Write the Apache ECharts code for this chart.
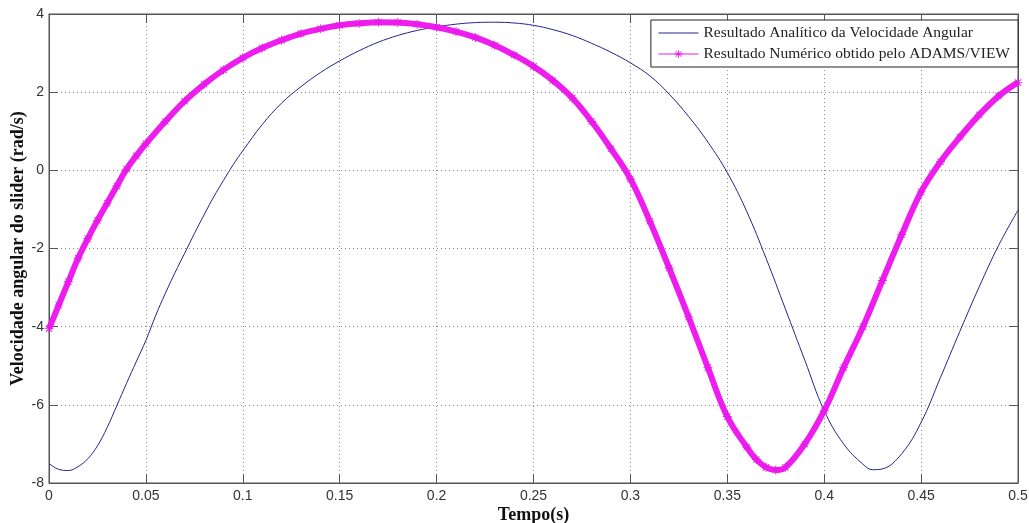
<!DOCTYPE html>
<html lang="pt">
<head>
    <meta charset="UTF-8">
    <title>Velocidade angular do slider</title>
    <style>
        html, body { margin: 0; padding: 0; background: #fff; }
        #main { width: 1029px; height: 523px; }
    </style>
</head>
<body>
<div id="main"></div>

<script src="https://cdn.jsdelivr.net/npm/echarts@6/dist/echarts.min.js"></script>
<script>

    // Resultado analítico (linha azul)
    const tempoAnalitico = [0, 0.005, 0.01, 0.015, 0.02, 0.025, 0.03, 0.035, 0.04, 0.045, 0.05, 0.055, 0.06, 0.065, 0.07, 0.075, 0.08, 0.085, 0.09, 0.095,
        0.1, 0.11, 0.12, 0.13, 0.14, 0.15, 0.16, 0.17, 0.18, 0.19, 0.2, 0.21, 0.22, 0.23, 0.24, 0.25, 0.26, 0.27, 0.28, 0.29,
        0.3, 0.31, 0.32, 0.33, 0.34, 0.35, 0.36, 0.37, 0.38, 0.39, 0.4, 0.41, 0.42, 0.425, 0.43, 0.44, 0.45, 0.46, 0.47, 0.48, 0.49, 0.5];
    const velAnalitica = [-7.50, -7.65, -7.68, -7.58, -7.38, -7.05, -6.58, -6.02, -5.45, -4.90, -4.35, -3.72, -3.15, -2.62, -2.12, -1.62, -1.14, -0.68, -0.26, 0.14,
        0.50, 1.17, 1.72, 2.14, 2.50, 2.80, 3.06, 3.28, 3.45, 3.58, 3.67, 3.74, 3.78, 3.79, 3.77, 3.71, 3.60, 3.45, 3.25, 3.02,
        2.75, 2.42, 1.95, 1.38, 0.72, -0.06, -1.05, -2.25, -3.55, -4.86, -6.15, -7.00, -7.52, -7.66, -7.64, -7.25, -6.45, -5.30, -4.12, -2.98, -1.92, -1.02];

    // Resultado numérico ADAMS/VIEW (linha magenta com asteriscos)
    const tempoNumerico = [0, 0.005, 0.01, 0.015, 0.02, 0.025, 0.03, 0.035, 0.04, 0.045, 0.05, 0.06, 0.07, 0.08, 0.09,
        0.1, 0.11, 0.12, 0.13, 0.14, 0.15, 0.16, 0.17, 0.18, 0.19, 0.2, 0.21, 0.22, 0.23, 0.24, 0.25, 0.26, 0.27, 0.28, 0.29,
        0.3, 0.31, 0.32, 0.33, 0.34, 0.35, 0.36, 0.365, 0.37, 0.375, 0.38, 0.39, 0.4, 0.41, 0.42, 0.43, 0.44, 0.45, 0.46, 0.47, 0.48, 0.49, 0.5];
    const velNumerica = [-4.05, -3.45, -2.85, -2.25, -1.75, -1.28, -0.84, -0.40, 0.03, 0.37, 0.68, 1.25, 1.77, 2.20, 2.57,
        2.88, 3.13, 3.33, 3.50, 3.62, 3.71, 3.76, 3.79, 3.78, 3.74, 3.66, 3.55, 3.40, 3.20, 2.95, 2.66, 2.30, 1.85, 1.25, 0.55,
        -0.22, -1.30, -2.50, -3.75, -5.05, -6.30, -7.08, -7.40, -7.60, -7.67, -7.60, -7.00, -6.15, -5.05, -4.00, -2.82, -1.65, -0.55, 0.22, 0.85, 1.42, 1.90, 2.25];

    const serieAnalitica = 'Resultado Analítico da Velocidade Angular';
    const serieNumerica = 'Resultado Numérico obtido pelo ADAMS/VIEW';

    // asterisco estilo MATLAB ( + e x sobrepostos )
    const asterisco = 'path://M-0.5,-5 L0.5,-5 L0.5,5 L-0.5,5 Z M-5,-0.5 L5,-0.5 L5,0.5 L-5,0.5 Z ' +
        'M-3.9,-3.2 L-3.2,-3.9 L3.9,3.2 L3.2,3.9 Z M3.2,-3.9 L3.9,-3.2 L-3.2,3.9 L-3.9,3.2 Z';

    const fonteEixo = 'Liberation Sans';
    const fonteTitulo = 'Liberation Serif';
    const azul = '#24248c';

    const gridLine = {show: true, lineStyle: {color: '#888', type: [1, 3], width: 1}};
    const tick = {show: true, inside: true, length: 9, lineStyle: {color: '#555'}};
    const eixo = {show: true, onZero: false, lineStyle: {color: '#555'}};

    let myChart = echarts.init(document.getElementById('main'));

    const option = {
        backgroundColor: '#fff',
        animation: false,
        grid: {
            left: 49, right: 11, top: 14, bottom: 40,
            outerBoundsMode: 'none',
            containLabel: false,
            show: true, borderColor: '#555', borderWidth: 1
        },
        legend: {
            orient: 'vertical',
            right: 11,
            top: 20,
            padding: [5, 8, 5, 7],
            itemGap: 5,
            itemWidth: 40,
            itemHeight: 10,
            backgroundColor: '#fff',
            borderColor: '#222',
            borderWidth: 1,
            borderRadius: 0,
            textStyle: {fontFamily: fonteTitulo, fontSize: 15.5, color: '#222'},
            data: [
                {name: serieAnalitica, itemStyle: {opacity: 0}, lineStyle: {width: 1, color: azul}},
                {name: serieNumerica, lineStyle: {width: 1.2}}
            ]
        },
        xAxis: [
            {
                type: 'value', min: 0, max: 0.5, interval: 0.05,
                name: 'Tempo(s)', nameLocation: 'middle', nameGap: 23, nameMoveOverlap: false,
                nameTextStyle: {fontFamily: fonteTitulo, fontWeight: 'bold', fontSize: 18, color: '#111'},
                axisLine: eixo,
                axisTick: tick,
                axisLabel: {fontFamily: fonteEixo, fontSize: 14, color: '#333', margin: 6},
                splitLine: gridLine
            },
            {
                type: 'value', min: 0, max: 0.5, interval: 0.05, position: 'top',
                axisLine: eixo,
                axisTick: tick, axisLabel: {show: false}, splitLine: {show: false}
            }
        ],
        yAxis: [
            {
                type: 'value', min: -8, max: 4, interval: 2,
                name: 'Velocidade angular do slider (rad/s)', nameLocation: 'middle', nameGap: 22, nameMoveOverlap: false,
                nameTextStyle: {fontFamily: fonteTitulo, fontWeight: 'bold', fontSize: 18, color: '#111'},
                axisLine: eixo,
                axisTick: tick,
                axisLabel: {fontFamily: fonteEixo, fontSize: 14, color: '#333', margin: 5},
                splitLine: gridLine
            },
            {
                type: 'value', min: -8, max: 4, interval: 2, position: 'right',
                axisLine: eixo,
                axisTick: tick, axisLabel: {show: false}, splitLine: {show: false}
            }
        ],
        series: [
            {
                name: serieAnalitica,
                type: 'line',
                smooth: 0.4,
                showSymbol: false,
                symbol: 'none',
                lineStyle: {color: azul, width: 1},
                itemStyle: {color: azul},
                data: tempoAnalitico.map((t, i) => [t, velAnalitica[i]])
            },
            {
                name: serieNumerica,
                type: 'line',
                smooth: 0.4,
                symbol: asterisco,
                symbolSize: 9,
                showAllSymbol: true,
                lineStyle: {color: '#ee1cee', width: 6},
                itemStyle: {color: '#e61ae6'},
                data: tempoNumerico.map((t, i) => [t, velNumerica[i]])
            }
        ]
    };

    myChart.setOption(option);
</script>
</body>
</html>
